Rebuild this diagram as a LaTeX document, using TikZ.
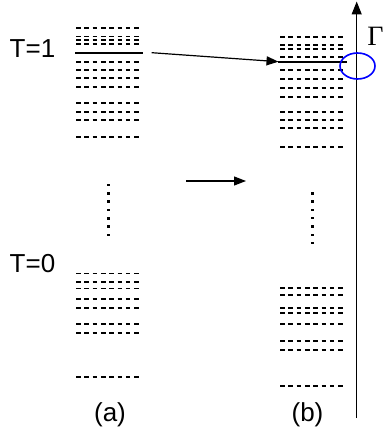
\documentclass[tikz,border=0pt]{standalone}
\usepackage{fontspec}
\setmainfont{Liberation Sans}
\newfontfamily\seriffont{Liberation Serif}
\usetikzlibrary{arrows.meta,shapes.geometric}
\begin{document}
\begin{tikzpicture}[x=1pt,y=-1pt,
  lvl/.style={line width=1.7pt,dash pattern=on 4.6pt off 3.7pt},
  sol/.style={line width=1.9pt},
  arr/.style={line width=1.2pt,-{Triangle[length=12pt,width=9pt]}},
  dotc/.style={fill=black,minimum size=2.4pt,inner sep=0pt,draw=none},
  lab/.style={font=\fontsize{26}{26}\selectfont,inner sep=0pt}]
\useasboundingbox (0,0) rectangle (384,438);
% left stack (a)
\foreach \y in {28.3,36.5,40.3,44.3,62,70,78.3,86.7,103.3,111.7,120,137.3,
                273.5,282,288.5,299.3,307.7,324.3,332.7,376.7}
  \draw[lvl] (76,\y) -- (141,\y);
\draw[sol] (75,52.7) -- (143,52.7);
% right stack (b)
\foreach \y in {36.7,45,49,57.3,70,79,88.3,96.7,111.7,120,128.3,146.7,
                288.3,295,308.3,313.3,324.3,341,350,385.7}
  \draw[lvl] (280,\y) -- (345,\y);
\draw[sol] (278,61.7) -- (347,61.7);
% dots
\foreach \i in {0,...,6} {
  \node[dotc] (la\i) at (108.3,185+8.33*\i) {};
  \node[dotc] (rb\i) at (312.3,193.3+8.33*\i) {};
}
% axis
\coordinate (axb) at (356.7,418);
\coordinate (axt) at (356.7,1.5);
\draw[line width=1.3pt,-{Triangle[length=13pt,width=10pt]}] (axb) -- (axt);
% ellipse
\node[draw=blue,line width=1.6pt,ellipse,minimum width=35pt,minimum height=26pt,inner sep=0pt] (ell) at (357.5,66) {};
% arrows
\coordinate (s1) at (151.7,52.7);
\coordinate (e1) at (278.5,61.7);
\draw[arr] (s1) -- (e1);
\coordinate (s2) at (186,181);
\coordinate (e2) at (246,181);
\draw[arr] (s2) -- (e2);
% labels
\node[lab] (t1) at (32.5,48.5) {T=1};
\node[lab] (t0) at (32.5,263.5) {T=0};
\node[lab] (la) at (110,415) {(a)};
\node[lab] (lb) at (307.5,415) {(b)};
\node[inner sep=0pt,font=\seriffont\fontsize{28}{28}\selectfont] (g) at (375.5,36.5) {Γ};
\end{tikzpicture}
\end{document}
